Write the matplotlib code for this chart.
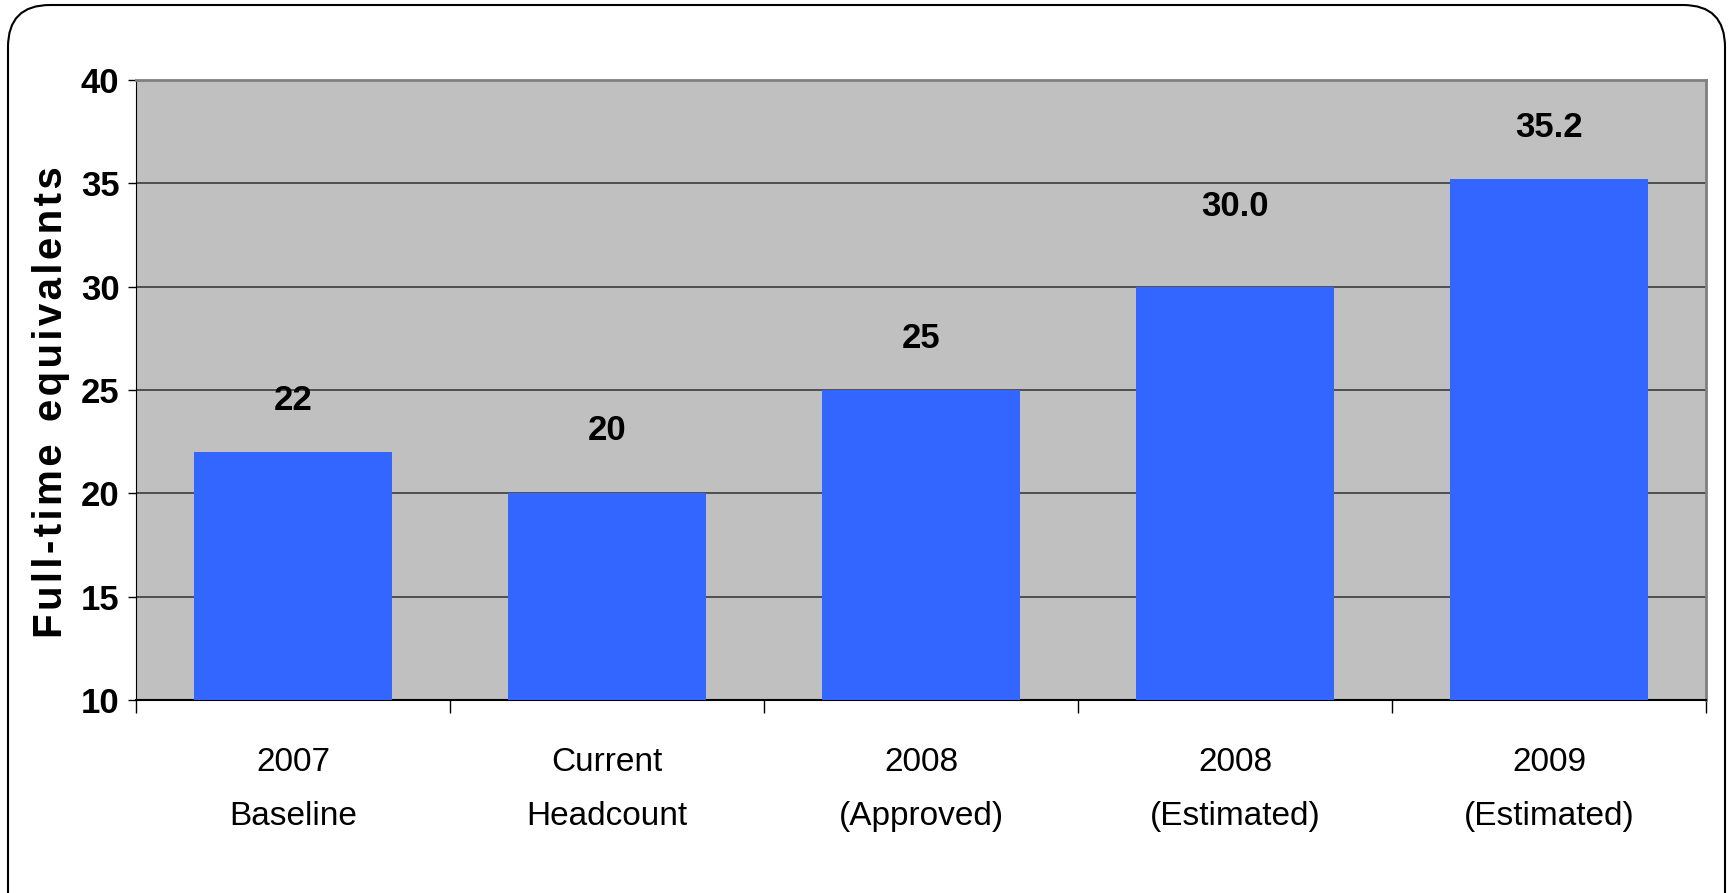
import matplotlib
matplotlib.use("Agg")
import matplotlib.pyplot as plt
from matplotlib.patches import FancyBboxPatch

plt.rcParams['font.family'] = ['Liberation Sans Narrow', 'Liberation Sans', 'DejaVu Sans']

# data
categories = ["2007\nBaseline", "Current\nHeadcount", "2008\n(Approved)",
              "2008\n(Estimated)", "2009\n(Estimated)"]
fte = [22, 20, 25, 30.0, 35.2]
value_labels = ["22", "20", "25", "30.0", "35.2"]
yticks = [10, 15, 20, 25, 30, 35, 40]

# the labels were placed by hand in the original, so offsets differ (points)
label_offsets = [37, 45, 37, 58, 37]

W, H = 1733, 893
fig = plt.figure(figsize=(W / 100, H / 100), dpi=100)

# rounded frame round the whole slide
bg = fig.add_axes([0, 0, 1, 1])
bg.set_xlim(0, W)
bg.set_ylim(H, 0)
bg.axis('off')
frame = FancyBboxPatch((8, 5), 1717, 930, boxstyle="round,pad=0,rounding_size=42",
                       facecolor='white', edgecolor='black', linewidth=1.5)
bg.add_patch(frame)

ax = fig.add_axes([136 / W, 1 - 700 / H, (1706 - 136) / W, (700 - 80) / H])
ax.set_facecolor('#C0C0C0')

x = list(range(len(categories)))
ax.bar(x, [v - 10 for v in fte], bottom=10, width=0.63, color='#3366FF', zorder=3)

for xi, v, lab, off in zip(x, fte, value_labels, label_offsets):
    ax.annotate(lab, (xi, v), xytext=(0, off), textcoords='offset points',
                ha='center', va='center', fontsize=25, fontweight='bold')

ax.set_xlim(-0.5, len(categories) - 0.5)
ax.set_ylim(10, 40)
ax.set_yticks(yticks)
ax.set_yticklabels([str(t) for t in yticks], fontsize=25, fontweight='bold')
ax.yaxis.grid(True, color='#303030', linewidth=1.1, zorder=1)
ax.set_axisbelow(True)

# category ticks sit between the bars, labels under the bars
ax.set_xticks([i + 0.5 for i in range(-1, len(categories))])
ax.set_xticklabels([])
ax.tick_params(axis='x', which='major', length=9, width=1, direction='out')
ax.set_xticks(x, minor=True)
ax.set_xticklabels(categories, minor=True, fontsize=24, linespacing=1.95)
ax.tick_params(axis='x', which='minor', length=0, pad=34)
ax.tick_params(axis='y', length=6, width=1, pad=6)

hs = "\u200a"
ylab = hs.join("Full-time") + "  " + hs.join("equivalents")
ax.set_ylabel(ylab, fontsize=29, fontweight='bold')
ax.yaxis.set_label_coords(-0.042, 0.48)

for s in ['top', 'right']:
    ax.spines[s].set_color('#808080')
    ax.spines[s].set_linewidth(2)
ax.spines['left'].set_color('black')
ax.spines['bottom'].set_color('black')
ax.spines['bottom'].set_linewidth(1.5)

fig.savefig('out.png', dpi=100)
